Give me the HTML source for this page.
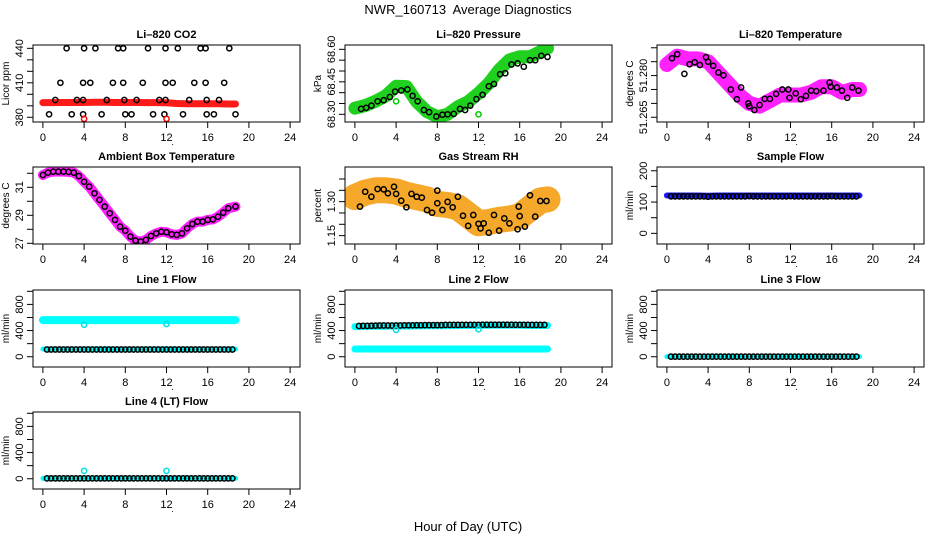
<!DOCTYPE html>
<html><head><meta charset="utf-8">
<style>
html,body{margin:0;padding:0;background:#fff;}
svg{display:block;font-family:"Liberation Sans",sans-serif;}
</style></head>
<body>
<svg id="chart" width="936" height="540" viewBox="0 0 936 540" xmlns="http://www.w3.org/2000/svg">
<text x="468" y="14" text-anchor="middle" font-size="13">NWR_160713&#160; Average Diagnostics</text>
<text x="468" y="531" text-anchor="middle" font-size="13">Hour of Day (UTC)</text>
</svg>
<script>
// ---------- data ----------
const xTicks = [0,4,8,12,16,20,24];
const hours = [0.4,0.8,1.2,1.6,2.0,2.4,2.8,3.2,3.6,4.0,4.4,4.8,5.2,5.6,6.0,6.4,6.8,7.2,7.6,8.0,8.4,8.8,9.2,9.6,10.0,10.4,10.8,11.2,11.6,12.0,12.4,12.8,13.2,13.6,14.0,14.4,14.8,15.2,15.6,16.0,16.4,16.8,17.2,17.6,18.0,18.4];
const bandHours = [0,1,2,3,4,5,6,7,8,9,10,11,12,13,14,15,16,17,18,18.7];

// CO2
const co2Hours = [2.3,4.0,5.1,7.3,7.8,10.2,11.9,13.1,15.3,15.8,18.1, 1.7,3.9,4.6,6.8,7.8,9.7,11.9,12.6,14.7,15.8,17.6, 1.2,3.3,3.9,6.2,7.9,9.1,11.3,11.9,14.2,15.9,17.1, 0.6,2.8,3.9,5.7,8.0,8.6,10.7,11.8,13.6,15.9,16.6,18.7];
const co2Values = [440,440,440,440,440,440,440,440,440,440,440, 410,410,410,410,410,410,410,410,410,410,410, 395,395,395,395,395,395,395,395,395,395,395, 382.6,382.6,382.6,382.6,382.6,382.6,382.6,382.6,382.6,382.6,382.6,382.6];
const co2Band = [392.8,392.8,392.9,392.9,392.9,393,393,392.9,392.9,392.9,392.8,392.8,392.6,392,391.8,391.7,391.7,391.7,391.6,391.6];
const co2OutHours = [4.0,12.0];
const co2OutValues = [378.6,378.6];

// Pressure
const presBand = [68.328,68.34,68.36,68.385,68.43,68.428,68.358,68.312,68.289,68.30,68.335,68.358,68.397,68.443,68.505,68.551,68.566,68.566,68.589,68.605];
const presHours = [0.6,1.1,1.6,2.2,2.8,3.4,3.9,4.5,5.1,5.6,6.1,6.7,7.2,7.9,8.5,9.0,9.6,10.2,10.7,11.2,11.8,12.4,13.0,13.5,14.1,14.6,15.2,15.8,16.4,17.0,17.5,18.1,18.7];
const presValues = [68.325,68.33,68.34,68.36,68.365,68.38,68.405,68.41,68.415,68.385,68.36,68.32,68.31,68.29,68.298,68.30,68.302,68.325,68.32,68.34,68.37,68.39,68.43,68.44,68.485,68.49,68.53,68.535,68.52,68.55,68.55,68.57,68.565];
const presOutHours = [4.0,12.0];
const presOutValues = [68.36,68.30];

// Li-820 temperature
const ltBand = [51.284,51.287,51.286,51.286,51.285,51.281,51.277,51.273,51.270,51.269,51.271,51.273,51.273,51.273,51.274,51.276,51.276,51.274,51.275,51.275];
const ltHours = [0.5,1.0,1.7,2.2,2.7,3.2,3.8,4.0,4.5,5.0,5.5,6.2,6.8,7.2,7.9,8.0,8.5,9.0,9.5,10.0,10.6,11.2,11.8,11.9,12.5,13.0,13.5,14.0,14.5,15.2,15.8,15.9,16.5,17.0,17.5,18.0,18.6];
const ltValues = [51.2862,51.2877,51.2806,51.2841,51.2848,51.2838,51.2866,51.2850,51.2835,51.2811,51.2801,51.2750,51.2715,51.2757,51.2700,51.2690,51.2676,51.2694,51.2716,51.2716,51.2734,51.2750,51.2750,51.2720,51.2736,51.2715,51.2727,51.2746,51.2744,51.2746,51.2775,51.2760,51.2757,51.2746,51.2720,51.2757,51.2746];

// Ambient box temperature
const ambHours = [0,0.5,1,1.5,2,2.5,3,3.5,4,4.5,5,5.5,6,6.5,7,7.5,8,8.5,9,9.5,10,10.5,11,11.5,12,12.5,13,13.5,14,14.5,15,15.5,16,16.5,17,17.5,18,18.7];
const ambValues = [31.88,32.05,32.12,32.12,32.12,32.1,32.05,31.8,31.4,31.05,30.57,30.1,29.62,29.14,28.67,28.19,27.9,27.48,27.19,27.12,27.24,27.52,27.71,27.83,27.79,27.64,27.6,27.71,28.07,28.38,28.55,28.55,28.67,28.71,28.9,29.19,29.5,29.62];

// Gas stream RH
const rhBand = [1.32,1.34,1.35,1.35,1.345,1.33,1.32,1.31,1.29,1.285,1.275,1.24,1.205,1.21,1.22,1.225,1.235,1.27,1.305,1.31];
const rhHours = [0.5,1.0,1.6,2.2,2.8,3.2,3.8,4.0,4.5,5.0,5.5,6.0,6.5,7.0,7.5,8.0,8.0,8.5,9.0,9.5,10.0,10.5,11.0,11.5,12.0,12.2,12.5,13.0,13.5,14.0,14.5,15.0,15.8,15.9,16.0,16.5,17.0,17.5,18.0,18.6];
const rhValues = [1.278,1.344,1.322,1.356,1.354,1.337,1.366,1.334,1.304,1.275,1.334,1.322,1.318,1.263,1.251,1.349,1.293,1.263,1.299,1.275,1.322,1.238,1.193,1.241,1.202,1.182,1.204,1.163,1.241,1.172,1.226,1.204,1.178,1.278,1.236,1.190,1.328,1.234,1.303,1.303];

// Flows
const sampleBand = [121,121,121,121,120,121,121,121,121,121,121,121,121,121,121,121,121,121,121,121];
const sampleValues = [118,118,118,118,118,118,118,118,118,117,118,118,118,118,118,118,118,118,118,119,118,118,118,118,118,118,118,118,118,119,118,118,118,118,118,118,118,118,118,119,118,118,118,118,118,118];
const line1Cyan = [560,560,560,560,560,560,560,560,560,560,560,560,560,560,560,560,560,560,560,560];
const line1Low = [118,118,118,118,118,118,118,118,118,118,118,118,118,118,118,118,118,118,118,118];
const line1Values = [110,110,110,110,110,110,110,110,110,110,110,110,110,110,110,110,110,110,110,110,110,110,110,110,110,110,110,110,110,110,110,110,110,110,110,110,110,110,110,110,110,110,110,110,110,110];
const line1OutHours = [4.0,12.0];
const line1OutValues = [490,500];
const line2Cyan = [460,462,465,467,470,470,472,473,475,476,477,478,478,480,480,480,480,478,478,478];
const line2Low = [118,118,118,118,118,118,118,118,118,118,118,118,118,118,118,118,118,118,118,118];
const line2Values = [470,472,472,474,476,478,478,478,476,478,478,480,480,480,482,482,484,484,484,484,484,486,486,486,486,488,488,488,488,488,490,490,490,490,490,490,490,490,488,488,488,488,486,486,486,486];
const line2OutHours = [4.0,12.0];
const line2OutValues = [410,420];
const line3Cyan = [2,2,2,2,2,2,2,2,2,2,2,2,2,2,2,2,2,2,2,2];
const line3Values = [2,2,2,2,2,2,2,2,2,2,2,2,2,2,2,2,2,2,2,2,2,2,2,2,2,2,2,2,2,2,2,2,2,2,2,2,2,2,2,2,2,2,2,2,2,2];
const line4Cyan = [5,5,5,5,5,5,5,5,5,5,5,5,5,5,5,5,5,5,5,5];
const line4Values = [5,5,5,5,5,5,5,5,5,5,5,5,5,5,5,5,5,5,5,5,5,5,5,5,5,5,5,5,5,5,5,5,5,5,5,5,5,5,5,5,5,5,5,5,5,5];
const line4OutHours = [4.0,12.0];
const line4OutValues = [120,120];

// ---------- drawing ----------
const NS = "http://www.w3.org/2000/svg";
const svg = document.getElementById('chart');
function mk(parent, tag, attrs, name){
  const el = document.createElementNS(NS, tag);
  for (const k in attrs) el.setAttribute(k, attrs[k]);
  
  
  parent.appendChild(el);
  return el;
}
const rowTops = [45,167,290,412];
function panel(col,row,title,ylim,yTicks,yLabels,yTitle,key){
  const L = 33 + 312*col, W = 267, T = rowTops[row], H = 77;
  const g = mk(svg,'g',{},key+'-panel');
  const sx = h => L + (h + 0.96) / 25.92 * W;
  const sy = v => T + H - (v - ylim[0]) / (ylim[1]-ylim[0]) * H;
  mk(g,'text',{x:L+W/2,y:T-7,'text-anchor':'middle','font-size':11,'font-weight':'bold'},key+'-title').textContent = title;
  const clip = mk(g,'clipPath',{id:'clip-'+key},key+'-clip');
  mk(clip,'rect',{x:L,y:T,width:W,height:H},key+'-clip-rect');
  const plot = mk(g,'g',{'clip-path':'url(#clip-'+key+')'},key+'-plot-area');
  mk(g,'rect',{x:L,y:T,width:W,height:H,fill:'none',stroke:'#000','stroke-width':1},key+'-frame');
  xTicks.forEach(t=>{
    mk(g,'line',{x1:sx(t),x2:sx(t),y1:T+H,y2:T+H+6,stroke:'#000'},key+'-x-tick');
    const lab = mk(g,'text',{x:sx(t),y:T+H+19,'text-anchor':'middle','font-size':11},key+'-x-tick-label');
    lab.textContent = t;
  });
  mk(g,'text',{x:sx(12.6),y:T+H+23,'text-anchor':'middle','font-size':9},key+'-x-label').textContent='.';
  yTicks.forEach(v=>{
    mk(g,'line',{x1:L-6,x2:L,y1:sy(v),y2:sy(v),stroke:'#000'},key+'-y-tick');
  });
  yLabels.forEach(p=>{
    const y = sy(p[0]);
    const lab = mk(g,'text',{x:L-10,y:y,'text-anchor':'middle','font-size':11,transform:'rotate(-90 '+(L-10)+' '+y+')'},key+'-y-tick-label');
    lab.textContent = p[1];
  });
  const ty = T+H/2;
  const yt = mk(g,'text',{x:L-24,y:ty,'text-anchor':'middle','font-size':10,transform:'rotate(-90 '+(L-24)+' '+ty+')'},key+'-y-axis-title');
  yt.textContent = yTitle;
  return {sx,sy,plot};
}
function band(p, hs, vs, color, width, name){
  const d = hs.map((h,i)=>(i?'L':'M')+p.sx(h).toFixed(1)+','+p.sy(vs[i]).toFixed(1)).join('');
  mk(p.plot,'path',{d:d,fill:'none',stroke:color,'stroke-width':width,'stroke-linecap':'round','stroke-linejoin':'round'},name);
}
function circles(p, hs, vs, color, name, r){
  hs.forEach((h,i)=>{
    mk(p.plot,'circle',{cx:p.sx(h).toFixed(1),cy:p.sy(vs[i]).toFixed(1),r:r||2.6,fill:'none',stroke:color,'stroke-width':1.5},name);
  });
}
function range(a,b,s){const r=[];for(let v=a;v<=b+1e-9;v+=s)r.push(+v.toFixed(4));return r;}

// CO2
let p = panel(0,0,'Li–820 CO2',[375.9,442.9],range(380,440,10),[[380,'380'],[410,'410'],[440,'440']],'Licor ppm','co2');
band(p,bandHours,co2Band,'#ff1a1a',7,'co2-band');
circles(p,co2Hours,co2Values,'#000','co2-point');
circles(p,co2OutHours,co2OutValues,'#ff0000','co2-outlier');

// Pressure
p = panel(1,0,'Li–820 Pressure',[68.2645,68.62],range(68.30,68.60,0.05),[[68.30,'68.30'],[68.45,'68.45'],[68.60,'68.60']],'kPa','pressure');
band(p,bandHours,presBand,'#1fd01f',13,'pressure-band');
circles(p,presHours,presValues,'#000','pressure-point');
circles(p,presOutHours,presOutValues,'#00cc00','pressure-outlier');

// Li-820 temperature
p = panel(2,0,'Li–820 Temperature',[51.2633,51.291],range(51.265,51.290,0.005),[[51.265,'51.265'],[51.280,'51.280']],'degrees C','li-temp');
band(p,bandHours,ltBand,'#ff22ff',15,'li-temp-band');
circles(p,ltHours,ltValues,'#000','li-temp-point');

// Ambient
p = panel(0,1,'Ambient Box Temperature',[26.95,32.45],range(27,32,1),[[27,'27'],[29,'29'],[31,'31']],'degrees C','ambient');
band(p,ambHours,ambValues,'#ff22ff',10,'ambient-band');
circles(p,ambHours,ambValues,'#000','ambient-point');

// RH
p = panel(1,1,'Gas Stream RH',[1.113,1.453],range(1.15,1.40,0.05),[[1.15,'1.15'],[1.30,'1.30']],'percent','rh');
band(p,bandHours,rhBand,'#f5a82a',26,'rh-band');
circles(p,rhHours,rhValues,'#000','rh-point');

// Sample flow
p = panel(2,1,'Sample Flow',[-34,212],range(0,200,50),[[0,'0'],[100,'100'],[200,'200']],'ml/min','sample-flow');
band(p,bandHours,sampleBand,'#1a1aff',6,'sample-flow-band');
circles(p,hours,sampleValues,'#000','sample-flow-point');

const flowTicks = range(0,1000,200), flowLabels=[[0,'0'],[400,'400'],[800,'800']];
// Line 1
p = panel(0,2,'Line 1 Flow',[-157,1020],flowTicks,flowLabels,'ml/min','line1');
band(p,bandHours,line1Cyan,'#00ffff',8,'line1-band');
band(p,bandHours,line1Low,'#00ffff',5,'line1-low-band');
circles(p,hours,line1Values,'#000','line1-point');
circles(p,line1OutHours,line1OutValues,'#00e0e0','line1-outlier');
// Line 2
p = panel(1,2,'Line 2 Flow',[-157,1020],flowTicks,flowLabels,'ml/min','line2');
band(p,bandHours,line2Cyan,'#00ffff',7,'line2-band');
band(p,bandHours,line2Low,'#00ffff',7,'line2-low-band');
circles(p,hours,line2Values,'#000','line2-point');
circles(p,line2OutHours,line2OutValues,'#00e0e0','line2-outlier');
// Line 3
p = panel(2,2,'Line 3 Flow',[-157,1020],flowTicks,flowLabels,'ml/min','line3');
band(p,bandHours,line3Cyan,'#00ffff',5,'line3-band');
circles(p,hours,line3Values,'#000','line3-point');
// Line 4
p = panel(0,3,'Line 4 (LT) Flow',[-157,1020],flowTicks,flowLabels,'ml/min','line4');
band(p,bandHours,line4Cyan,'#00ffff',5,'line4-band');
circles(p,hours,line4Values,'#000','line4-point');
circles(p,line4OutHours,line4OutValues,'#00e0e0','line4-outlier');
</script>
</body></html>
